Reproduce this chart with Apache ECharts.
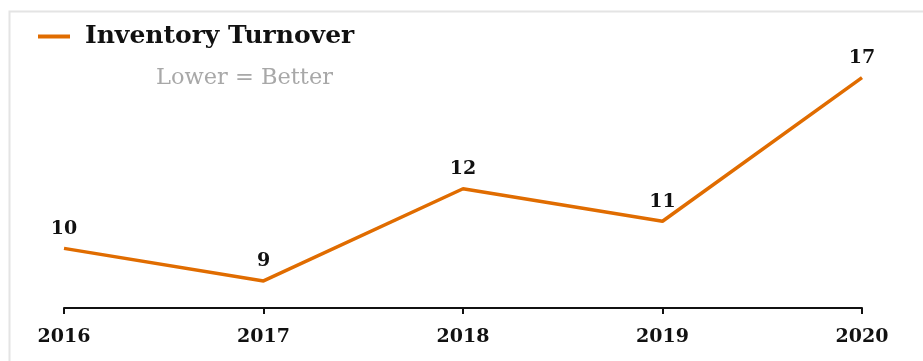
<!DOCTYPE html>
<html>
<head>
<meta charset="utf-8">
<script src="https://cdn.jsdelivr.net/npm/echarts@6/dist/echarts.min.js"></script>
<style>
	html, body { margin: 0; padding: 0; background: #fff; }
	#chart { width: 923px; height: 361px; }
</style>
</head>
<body>
<div id="chart"></div>
<script>
	// years on the x axis
	var years = ['2016', '2017', '2018', '2019', '2020'];
	// inventory turnover per year (labels show rounded values)
	var turnover = [10.2, 9.0, 12.4, 11.2, 16.5];

	var serif = '"DejaVu Serif", Georgia, serif';
	var orange = '#e06c00';

	var myChart = echarts.init(document.getElementById('chart'));

	var option = {
		backgroundColor: '#fff',
		animation: false,
		graphic: [{
			type: 'rect',
			left: 7,
			top: 9,
			shape: { width: 940, height: 380 },
			style: { fill: 'none', stroke: '#e4e4e4', lineWidth: 2 },
			silent: true
		}],
		title: {
			text: 'Lower = Better',
			left: 151,
			top: 62,
			textStyle: { fontFamily: serif, fontSize: 22.5, fontWeight: 'normal', color: '#a8a8a8' }
		},
		legend: {
			data: [{ name: 'Inventory Turnover', icon: 'rect' }],
			left: 33,
			top: 19,
			itemWidth: 32,
			itemHeight: 4,
			textStyle: {
				fontFamily: serif, fontSize: 25, fontWeight: 'bold', color: '#111',
				padding: [6, 0, 0, 10]
			}
		},
		grid: { left: 64, right: 61, top: 37, bottom: 53 },
		xAxis: {
			type: 'category',
			data: years,
			boundaryGap: false,
			axisLine: { lineStyle: { color: '#111', width: 2 } },
			axisTick: { show: true, length: 6, lineStyle: { color: '#111', width: 2 } },
			axisLabel: { margin: 20, fontFamily: serif, fontSize: 19, fontWeight: 'bold', color: '#111' }
		},
		yAxis: {
			type: 'value',
			min: 8,
			max: 18,
			show: false
		},
		series: [{
			name: 'Inventory Turnover',
			type: 'line',
			data: turnover,
			symbol: 'circle',
			symbolSize: 0.1,
			lineStyle: { color: orange, width: 3.5 },
			itemStyle: { color: orange },
			label: {
				show: true,
				position: 'top',
				distance: 10,
				fontFamily: serif,
				fontSize: 19,
				fontWeight: 'bold',
				color: '#111',
				formatter: function (p) { return Math.round(p.value); }
			}
		}]
	};

	myChart.setOption(option);
</script>
</body>
</html>
